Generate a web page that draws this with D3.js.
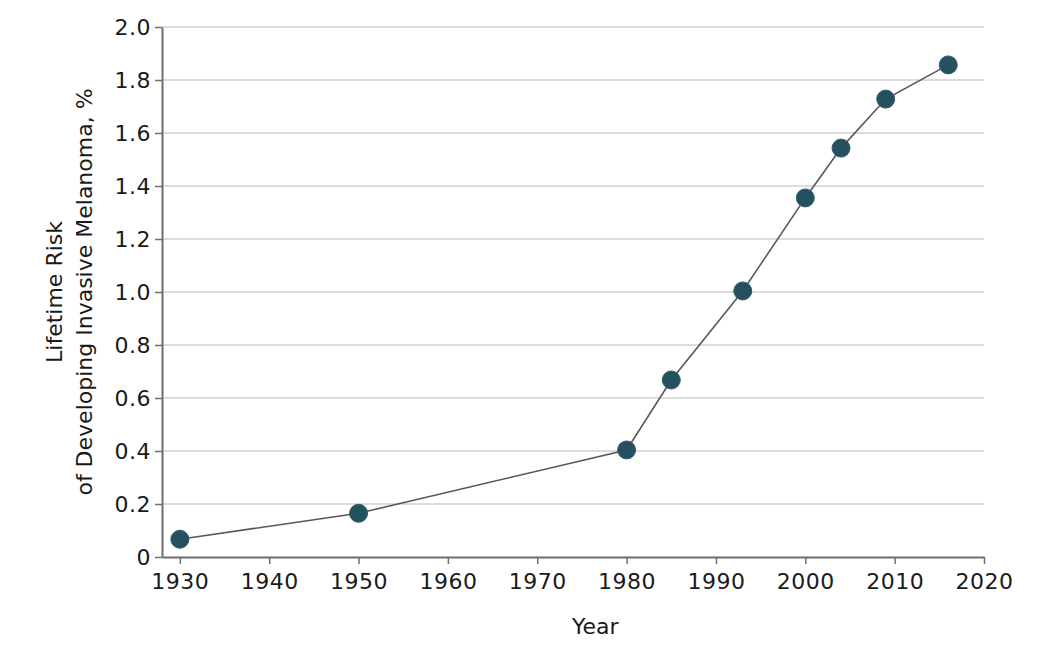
<!DOCTYPE html>
<html>
<head>
<meta charset="utf-8">
<script src="https://cdn.jsdelivr.net/npm/d3@7"></script>
<style>
  body { margin: 0; background: #fff; }
  svg text { font-family: "DejaVu Sans", sans-serif; fill: #1a1a1a; }
</style>
</head>
<body>
<div id="chart"></div>
<script>
// Data
const years = [1930, 1950, 1980, 1985, 1993, 2000, 2004, 2009, 2016];
const risk = [0.067, 0.165, 0.404, 0.668, 1.004, 1.355, 1.543, 1.728, 1.857];
const xTicks = [1930, 1940, 1950, 1960, 1970, 1980, 1990, 2000, 2010, 2020];
const yTicks = [0, 0.2, 0.4, 0.6, 0.8, 1.0, 1.2, 1.4, 1.6, 1.8, 2.0];
const yLabelLines = ["Lifetime Risk", "of Developing Invasive Melanoma, %"];
const xLabel = "Year";

// Dimensions
const W = 1046, H = 649;
const margin = { top: 27, right: 62, bottom: 92, left: 162 };
const width = W - margin.left - margin.right;
const height = H - margin.top - margin.bottom;

const data = years.map((y, i) => ({ year: y, value: risk[i] }));

const svg = d3.select('#chart')
    .append('svg')
    .attr('width', W)
    .attr('height', H)
    .append('g')
    .attr('transform', `translate(${margin.left}, ${margin.top})`);

// 1930 sits ~18px right of the y axis, 2020 at the right end
const xScale = d3.scaleLinear()
    .domain([1928, 2020])
    .range([0, width]);
const yScale = d3.scaleLinear()
    .domain([0, 2])
    .range([height, 0]);

// Gridlines
svg.append('g')
    .selectAll('line')
    .data(yTicks.filter(d => d > 0))
    .enter()
    .append('line')
    .attr('x1', 0)
    .attr('x2', width)
    .attr('y1', d => yScale(d))
    .attr('y2', d => yScale(d))
    .attr('stroke', '#dcdcdc')
    .attr('stroke-width', 2);

// Axes
const xAxis = d3.axisBottom(xScale)
    .tickValues(xTicks)
    .tickFormat(d3.format('d'))
    .tickSize(7)
    .tickSizeOuter(0);
const yAxis = d3.axisLeft(yScale)
    .tickValues(yTicks)
    .tickFormat(d => d === 0 ? '0' : d3.format('.1f')(d))
    .tickSize(7)
    .tickSizeOuter(0);

const gx = svg.append('g')
    .attr('class', 'x-axis')
    .attr('transform', `translate(0, ${height})`)
    .call(xAxis);
const gy = svg.append('g')
    .attr('class', 'y-axis')
    .call(yAxis);

[gx, gy].forEach(g => {
    g.select('.domain').attr('stroke', '#6e6e6e').attr('stroke-width', 2);
    g.selectAll('.tick line').attr('stroke', '#6e6e6e').attr('stroke-width', 1.5);
    g.selectAll('.tick text')
        .attr('font-size', 22)
        .attr('fill', '#1a1a1a')
        .style('font-family', '"DejaVu Sans", sans-serif')
        .style('letter-spacing', '0.5px');
});
gx.selectAll('.tick text').attr('dy', '0.98em');
gy.selectAll('.tick text').attr('dx', '-0.05em');

// Axis titles
svg.append('text')
    .attr('x', xScale(1976.5))
    .attr('y', height + 77)
    .attr('text-anchor', 'middle')
    .attr('font-size', 22)
    .text(xLabel);

svg.append('g')
    .attr('transform', `translate(${-margin.left + 62}, ${height / 2}) rotate(-90)`)
    .selectAll('text')
    .data(yLabelLines)
    .enter()
    .append('text')
    .attr('x', 0)
    .attr('y', (d, i) => i * 30)
    .attr('text-anchor', 'middle')
    .attr('font-size', 22)
    .text(d => d);

// Line
const line = d3.line()
    .x(d => xScale(d.year))
    .y(d => yScale(d.value));

svg.append('path')
    .datum(data)
    .attr('d', line)
    .attr('fill', 'none')
    .attr('stroke', '#585858')
    .attr('stroke-width', 1.6);

// Points
svg.selectAll('.pt')
    .data(data)
    .enter()
    .append('circle')
    .attr('class', 'pt')
    .attr('cx', d => xScale(d.year))
    .attr('cy', d => yScale(d.value))
    .attr('r', 9)
    .attr('fill', '#24505f')
    .attr('stroke', '#2f5d6b')
    .attr('stroke-width', 1);
</script>
</body>
</html>
